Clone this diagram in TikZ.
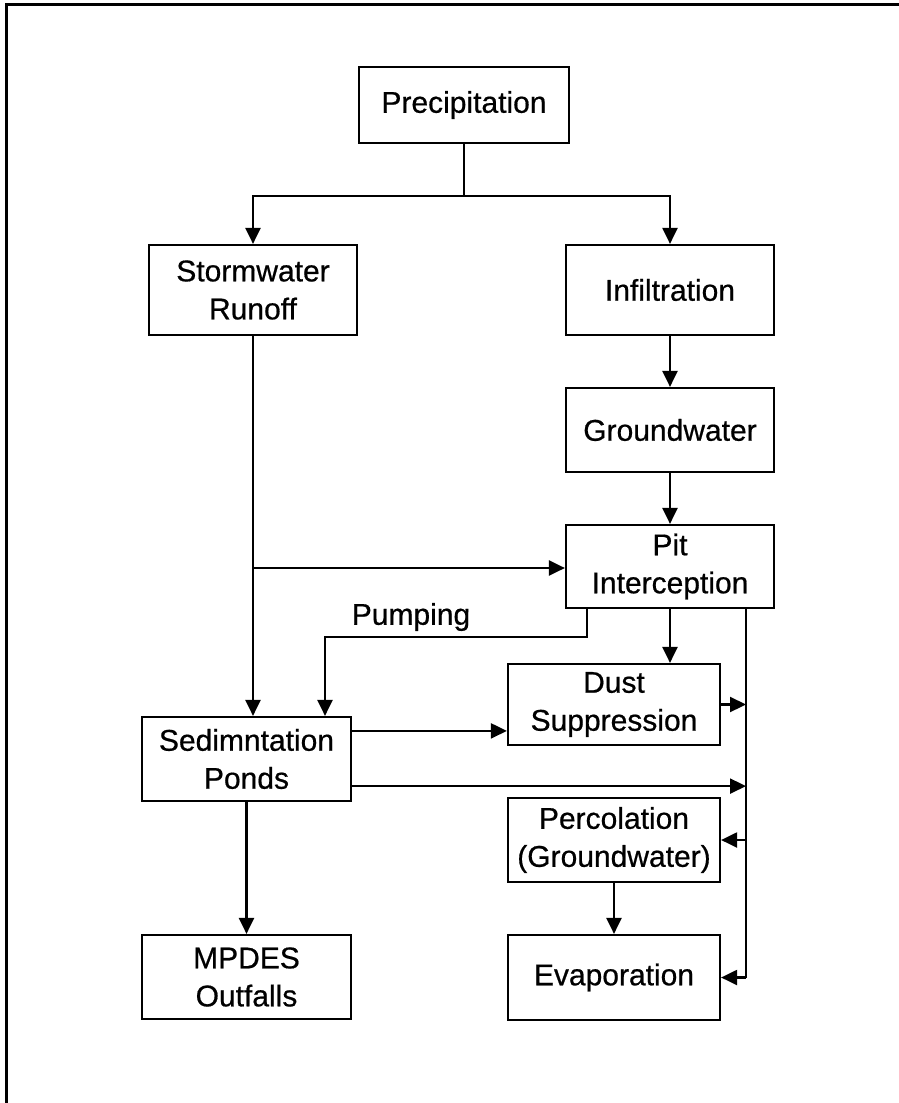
\documentclass[tikz,border=0pt]{standalone}
\usepackage{fontspec}
\setmainfont{Liberation Sans}
\newfontfamily\boxfont[FakeBold=0.6]{Liberation Sans}
\usetikzlibrary{arrows.meta,calc}
\begin{document}
\begin{tikzpicture}[x=1pt,y=-1pt,
  box/.style={draw,line width=2.2pt,inner sep=0pt,align=center,
    font=\boxfont\fontsize{30}{38}\selectfont},
  lbl/.style={inner sep=0pt,font=\boxfont\fontsize{30}{38}\selectfont},
  link/.style={line width=2.2pt},
  arr/.style={link,-{Triangle[length=16pt,width=15pt]}},
  frameline/.style={line width=3pt}]
\useasboundingbox (0,0) rectangle (899,1103);
\draw[frameline] (6,1103) -- (6,4) -- (899,4);

\node[box,minimum width=210pt,minimum height=76pt] (prec) at (464,105) {Precipitation};
\node[box,minimum width=208pt,minimum height=90pt] (storm) at (253,290) {Stormwater\\Runoff};
\node[box,minimum width=208pt,minimum height=90pt] (infil) at (670,290) {Infiltration};
\node[box,minimum width=208pt,minimum height=84pt] (ground) at (670,430) {Groundwater};
\node[box,minimum width=208pt,minimum height=83pt] (pit) at (670,566.5) {Pit\\Interception};
\node[box,minimum width=212pt,minimum height=81pt] (dust) at (614,704.5) {Dust\\Suppression};
\node[box,minimum width=209pt,minimum height=84pt] (sed) at (246.5,759) {Sedimntation\\Ponds};
\node[box,minimum width=212pt,minimum height=84pt] (perc) at (614,840) {Percolation\\(Groundwater)};
\node[box,minimum width=212pt,minimum height=85pt] (evap) at (614,977.5) {Evaporation};
\node[box,minimum width=209pt,minimum height=84pt] (mpdes) at (246.5,977) {MPDES\\Outfalls};
\node[lbl] (pumplbl) at (411,617) {Pumping};

% precipitation split
\coordinate (split) at (464,196);
\draw[link] (prec.south) -- (split);
\draw[arr] (split) -| (storm.north);
\draw[arr] (split) -| (infil.north);

% right column
\draw[arr] (infil.south) -- (ground.north);
\draw[arr] (ground.south) -- (pit.north);

% stormwater to ponds, branch to pit
\draw[arr] (storm.south) -- (storm.south |- sed.north);
\coordinate (branch) at (253,568);
\draw[arr] (branch) -- (branch -| pit.west);

% pumping
\coordinate (pumpA) at ($(pit.south west)+(22,0)$);
\coordinate (pumpB) at (325,637);
\draw[arr] (pumpA) |- (pumpB) -- (pumpB |- sed.north);

% pit to dust
\draw[arr] (pit.south) -- (pit.south |- dust.north);

% right collector line
\coordinate (rx) at (746,0);
\coordinate (rtop) at (pit.south -| rx);
\coordinate (rbot) at (evap.east -| rx);
\draw[link] (rtop) -- (rbot);
\draw[arr] (dust.east) -- (dust.east -| rx);
\coordinate (sedA) at ($(sed.north east)+(0,15)$);
\draw[arr] (sedA) -- (sedA -| dust.west);
\coordinate (sedB) at ($(sed.south east)+(0,-16)$);
\draw[arr] (sedB) -- (sedB -| rx);
\draw[arr] (perc.east -| rx) -- (perc.east);
\draw[arr] (perc.south) -- (evap.north);
\draw[arr] (rbot) -- (evap.east);

% ponds to outfalls
\draw[arr] (sed.south) -- (mpdes.north);
\end{tikzpicture}
\end{document}
